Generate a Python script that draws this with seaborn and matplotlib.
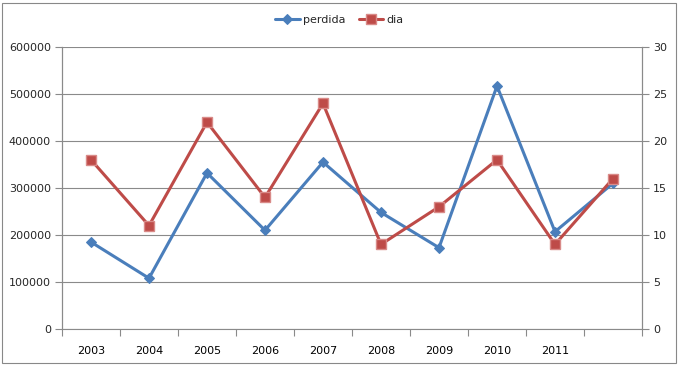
import numpy as np
import pandas as pd
import matplotlib
matplotlib.use('Agg')
import matplotlib.pyplot as plt
import seaborn as sns

# values
years = ['2003', '2004', '2005', '2006', '2007', '2008', '2009', '2010', '2011', '']
perdida = [185000, 108000, 332000, 210000, 355000, 248000, 173000, 517000, 207000, 310000]
dia = [18, 11, 22, 14, 24, 9, 13, 18, 9, 16]

df = pd.DataFrame({'pos': np.arange(len(years)), 'year': years,
                   'perdida': perdida, 'dia': dia})

sns.set_theme(style='white')
plt.rcParams['font.family'] = ['DejaVu Sans']

blue = '#4A7EBB'
red = '#BE4B48'
grid_c = '#8a8a8a'
fs = 8

fig = plt.figure(figsize=(6.79, 3.65), dpi=100)
ax = fig.add_axes([62 / 679, 36 / 365, 580 / 679, 282 / 365])
ax2 = ax.twinx()

sns.lineplot(data=df, x='pos', y='perdida', ax=ax, color=blue, lw=2.2,
             marker='D', markersize=5, markeredgecolor=blue, sort=False,
             label='perdida', legend=False)
sns.lineplot(data=df, x='pos', y='dia', ax=ax2, color=red, lw=2.2,
             marker='s', markersize=6.5, markerfacecolor=red,
             markeredgecolor='#d98a88', markeredgewidth=1, sort=False,
             label='dia', legend=False)

ax.set_xlim(-0.5, len(years) - 0.5)
ax.set_ylim(0, 600000)
ax2.set_ylim(0, 30)
ax.set_yticks(np.arange(0, 600001, 100000))
ax.set_yticklabels([str(v) for v in range(0, 600001, 100000)])
ax2.set_yticks(np.arange(0, 31, 5))

ax.set_xticks(df['pos'])
ax.set_xticklabels(years)
ax.set_xticks(np.arange(-0.5, len(years)), minor=True)
ax.tick_params(axis='x', which='major', length=0, pad=12, labelsize=fs, colors='black')
ax.tick_params(axis='x', which='minor', length=5, width=0.8, color=grid_c, direction='out', bottom=True)
ax.tick_params(axis='y', length=5, width=0.8, color=grid_c, direction='out', left=True, labelsize=fs, pad=3)
ax2.tick_params(axis='y', length=5, width=0.8, color=grid_c, direction='out', right=True, labelsize=fs, pad=3)

ax.set_xlabel('')
ax.set_ylabel('')
ax2.set_ylabel('')

ax.grid(True, axis='y', color=grid_c, lw=0.8)
ax.set_axisbelow(True)
for a in (ax, ax2):
    for s in a.spines.values():
        s.set_visible(False)
    a.spines['left'].set_visible(True)
    a.spines['right'].set_visible(True)
    a.spines['left'].set_color(grid_c)
    a.spines['right'].set_color(grid_c)
    a.spines['left'].set_linewidth(0.8)
    a.spines['right'].set_linewidth(0.8)
ax.spines['bottom'].set_visible(True)
ax.spines['bottom'].set_color(grid_c)
ax.spines['bottom'].set_linewidth(0.8)

h1, l1 = ax.get_legend_handles_labels()
h2, l2 = ax2.get_legend_handles_labels()
fig.legend(h1 + h2, l1 + l2, loc='center', bbox_to_anchor=(0.5, 1 - 20 / 365),
           ncol=2, frameon=False, fontsize=fs, handlelength=2.2,
           columnspacing=1.2, handletextpad=0.3)

# outer chart border
fig.patches.append(plt.Rectangle((2 / 679, 2 / 365), 674 / 679, 360 / 365,
                                 transform=fig.transFigure, fill=False,
                                 edgecolor='#888888', lw=0.8))

fig.savefig('out.png', dpi=100)
